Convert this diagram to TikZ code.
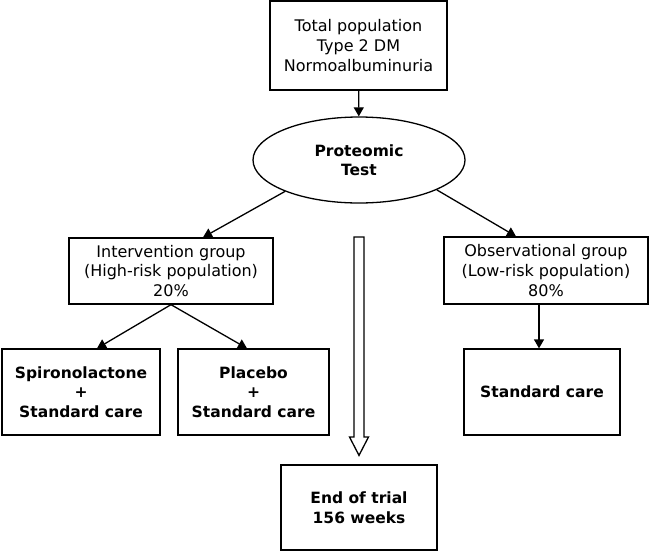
\documentclass[tikz,border=0pt]{standalone}
\usepackage{fontspec}
\setmainfont{DejaVu Sans}
\usetikzlibrary{calc}
\usetikzlibrary{shapes.geometric}
\usetikzlibrary{arrows.meta}

\begin{document}
\begin{tikzpicture}[x=1pt,y=-1pt,->,>={Triangle[width=10pt,length=9pt]},line width=1.3pt,
	font=\fontsize{16}{19.8}\selectfont,
	box node/.style={rectangle,draw,align=center,inner sep=2pt},
	arm node/.style={box node,font=\fontsize{15.5}{19.5}\selectfont\bfseries},
	hollow/.style={-,draw,fill=white}]
	\useasboundingbox (0,0) rectangle (650,552);

	\node[box node, minimum width=177pt, minimum height=89pt] (pop) at (358.5,45.5) {Total population\\Type 2 DM\\Normoalbuminuria};
	\node[ellipse, draw, minimum width=212pt, minimum height=86pt, align=center,
		font=\fontsize{15.5}{19}\selectfont\bfseries] (test) at (359,160) {Proteomic\\Test};

	\node[box node, minimum width=204pt, minimum height=66pt] (inter) at (171,271) {Intervention group\\(High-risk population)\\20\%};
	\node[box node, minimum width=204pt, minimum height=67pt] (obs) at (546,270.5) {Observational group\\(Low-risk population)\\80\%};

	\node[arm node, minimum width=158pt, minimum height=86pt] (spiro) at (81,392) {Spironolactone\\+\\Standard care};
	\node[arm node, minimum width=151pt, minimum height=86pt] (placebo) at (253.5,392) {Placebo\\+\\Standard care};
	\node[arm node, minimum width=156pt, minimum height=86pt] (std) at (542,392) {Standard care};
	\node[arm node, minimum width=156pt, minimum height=85pt] (end) at (359,507.5) {End of trial\\156 weeks};

	\coordinate (shaft) at (359,237);

	\path
	(pop) edge (test)
	(test.203) edge ([xshift=32pt]inter.north)
	(test.339) edge ([xshift=-30pt]obs.north)
	(inter.south) edge ([xshift=16pt]spiro.north)
	(inter.south) edge ([xshift=-6.5pt]placebo.north)
	([xshift=-3pt]std.north |- obs.south) edge ([xshift=-3pt]std.north);

	% open arrow down to the end of the trial
	\draw[hollow] ($(shaft)+(-5,0)$) -- ($(shaft)+(-5,200)$) -- ($(shaft)+(-9.5,200)$)
	-- ([yshift=9pt]end.north) -- ($(shaft)+(9.5,200)$) -- ($(shaft)+(5,200)$)
	-- ($(shaft)+(5,0)$) -- cycle;
\end{tikzpicture}
\end{document}
